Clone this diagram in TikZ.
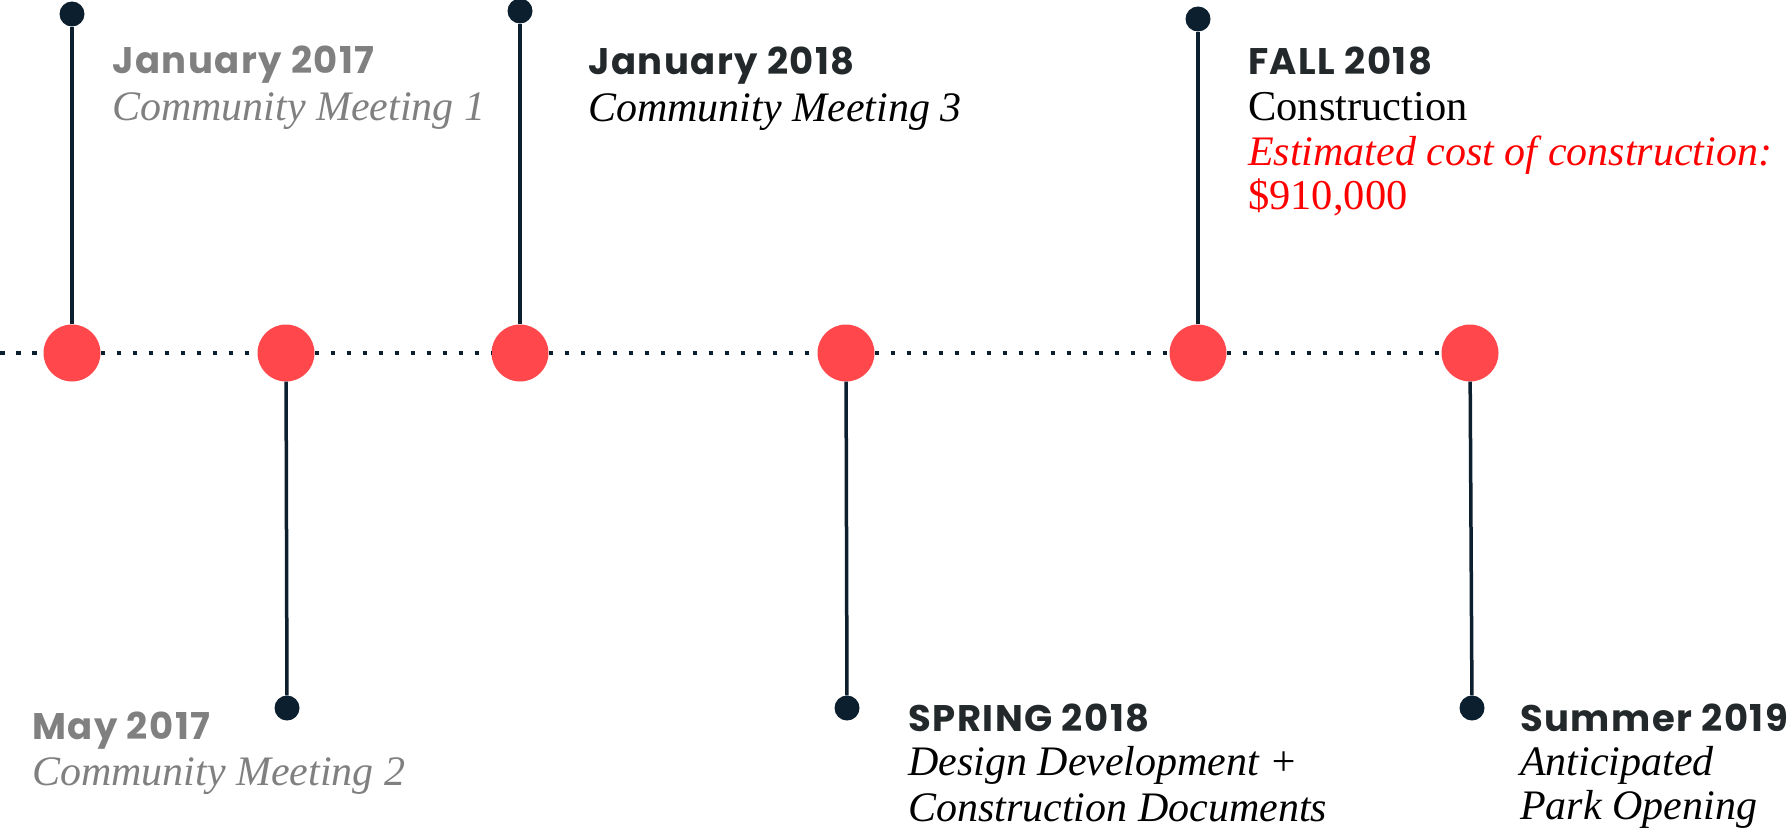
\documentclass[tikz,border=0pt]{standalone}
\usepackage{fontspec}
\newfontfamily\headfont{Poppins}[LetterSpace=4]
\newfontfamily\bodyfont{Liberation Serif}
\definecolor{circred}{HTML}{FF474C}
\definecolor{navy}{HTML}{0B1F2E}
\definecolor{grayt}{HTML}{808080}
\definecolor{darkhead}{HTML}{23292B}
\definecolor{redtext}{HTML}{FF0000}
\begin{document}
\begin{tikzpicture}[x=1pt,y=-1pt,
  bigdot/.style={circle,fill=circred,minimum size=57pt,inner sep=0pt},
  pindot/.style={circle,fill=navy,minimum size=25pt,inner sep=0pt},
  stem/.style={draw=navy,line width=3.5pt},
  dotline/.style={draw=navy,line width=4pt,dash pattern=on 4.5pt off 11.5pt},
  head/.style={anchor=base west,inner sep=0pt,font=\headfont\bfseries\fontsize{37}{42}\selectfont},
  body/.style={anchor=base west,inner sep=0pt,font=\bodyfont\itshape\fontsize{42}{46}\selectfont},
  bodyup/.style={anchor=base west,inner sep=0pt,font=\bodyfont\fontsize{42.5}{46}\selectfont}]
\useasboundingbox (0,0) rectangle (1788,832);
% main circles
\node[bigdot] (c1) at (72,353) {};
\node[bigdot] (c2) at (286,353) {};
\node[bigdot] (c3) at (520,353) {};
\node[bigdot] (c4) at (846,353) {};
\node[bigdot] (c5) at (1198,353) {};
\node[bigdot] (c6) at (1470,353) {};
% pins
\node[pindot] (p1) at (72,14) {};
\node[pindot] (p2) at (287,708) {};
\node[pindot] (p3) at (520,11) {};
\node[pindot] (p4) at (847,708) {};
\node[pindot] (p5) at (1198,19) {};
\node[pindot] (p6) at (1472,708) {};
\coordinate (start) at (0,353);
% dotted timeline
\draw[dotline] (start) -- (c1);
\draw[dotline] (c1) -- (c2);
\draw[dotline] (c2) -- (c3);
\draw[dotline] (c3) -- (c4);
\draw[dotline] (c4) -- (c5);
\draw[dotline] (c5) -- (c6);
% stems
\draw[stem] (c1) -- (p1);
\draw[stem] (c2) -- (p2);
\draw[stem] (c3) -- (p3);
\draw[stem] (c4) -- (p4);
\draw[stem] (c5) -- (p5);
\draw[stem] (c6) -- (p6);
% texts
\node[head,text=grayt] (t1h) at (112,74) {January 2017};
\node[body,text=grayt] (t1a) at (112,121) {Community Meeting 1};
\node[head,text=darkhead] (t3h) at (588,75) {January 2018};
\node[body,text=black] (t3a) at (588,122) {Community Meeting 3};
\node[head,text=darkhead] (t5h) at (1248,75) {FALL 2018};
\node[bodyup,text=black] (t5a) at (1248,121) {Construction};
\node[body,text=redtext] (t5b) at (1248,165) {Estimated cost of construction:};
\node[bodyup,text=redtext] (t5c) at (1248,209) {\$910,000};
\node[head,text=grayt] (t2h) at (32,739) {May 2017};
\node[body,text=grayt] (t2a) at (32,785) {Community Meeting 2};
\node[head,text=darkhead] (t4h) at (908,731) {SPRING 2018};
\node[body,text=black] (t4a) at (908,775) {Design Development +};
\node[body,text=black] (t4b) at (908,821) {Construction Documents};
\node[head,text=darkhead] (t6h) at (1520,731) {Summer 2019};
\node[body,text=black] (t6a) at (1520,775) {Anticipated};
\node[body,text=black] (t6b) at (1520,819) {Park Opening};
\end{tikzpicture}
\end{document}
